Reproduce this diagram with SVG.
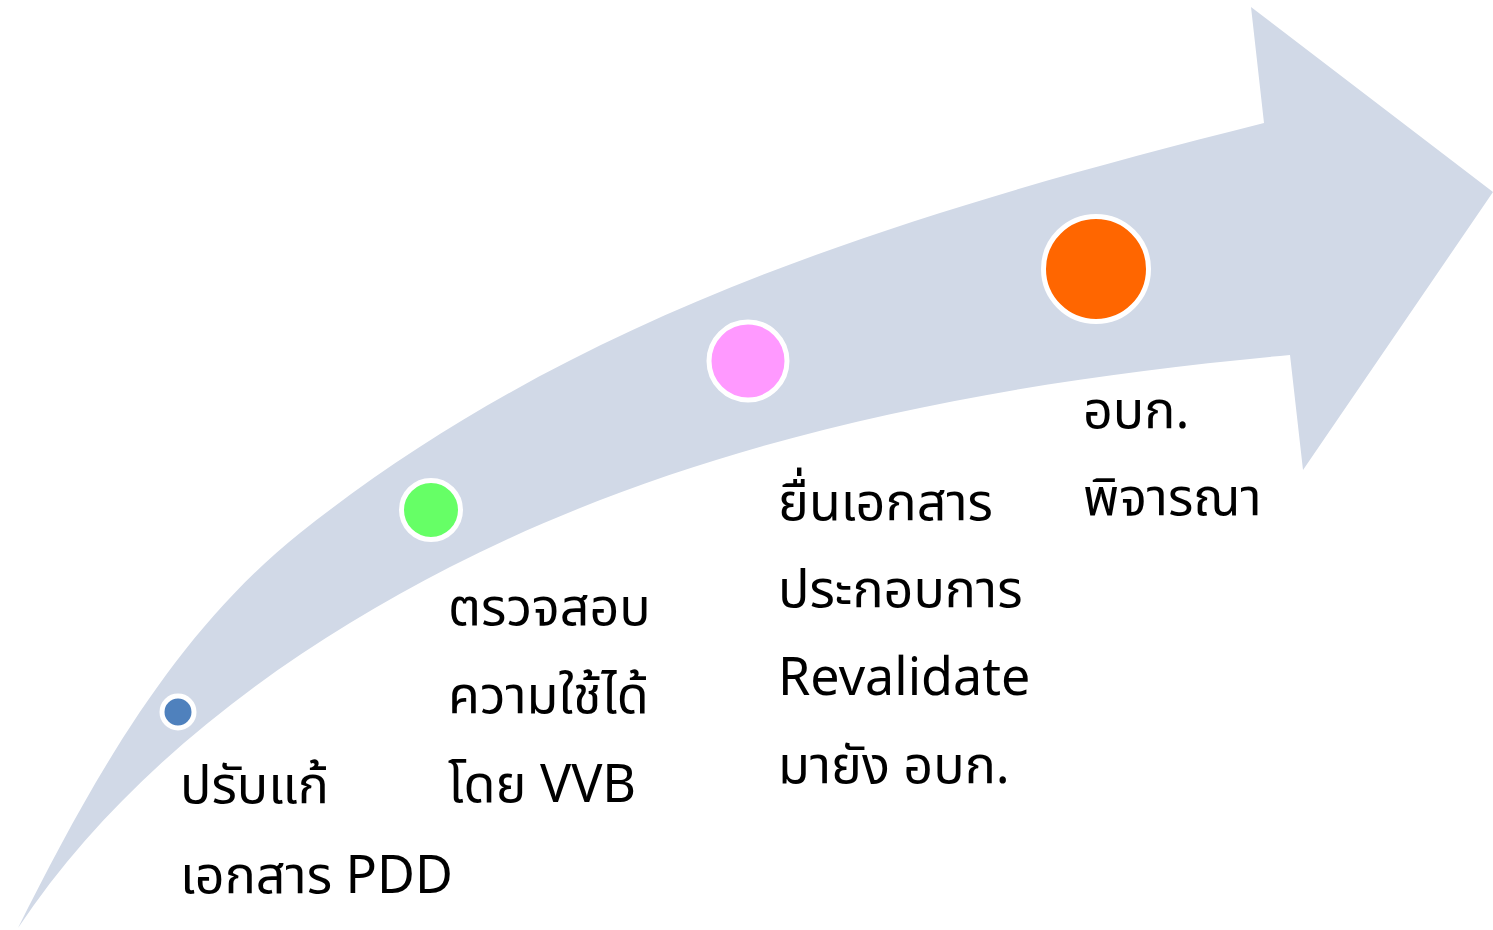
<svg xmlns="http://www.w3.org/2000/svg" width="1493" height="930" viewBox="0 0 1493 930">
<style>
.lbl{font-family:"Noto Sans Thai","Noto Sans","DejaVu Sans",sans-serif;font-size:52px;fill:#000}
.dot{stroke:#fff;stroke-width:5}
</style>
<rect width="1493" height="930" fill="#fff"/>
<g id="arrow">
<path fill="#D1D9E7" d="M18,928 C90.4,783.2 173.6,633.4 300,533 C565.2,322.2 876,220.2 1264,123 L1251,7 L1493,192 L1303,470 L1290,355 C1001.5,381.1 708.1,435.1 450,567 C282.7,652.5 122.3,771.6 18,928 Z"/>
</g>
<g id="step1">
<circle class="dot" cx="178" cy="712" r="16" fill="#4F81BD"/>
<text class="lbl" x="180" y="803">ปรับแก้</text>
<text class="lbl" x="180" y="893">เอกสาร PDD</text>
</g>
<g id="step2">
<circle class="dot" cx="431" cy="510" r="29.5" fill="#66FF66"/>
<text class="lbl" x="448" y="625">ตรวจสอบ</text>
<text class="lbl" x="448" y="713">ความใช้ได้</text>
<text class="lbl" x="448" y="802">โดย VVB</text>
</g>
<g id="step3">
<circle class="dot" cx="748" cy="361" r="39" fill="#FF99FF"/>
<text class="lbl" x="778" y="520">ยื่นเอกสาร</text>
<text class="lbl" x="778" y="607">ประกอบการ</text>
<text class="lbl" x="778" y="695">Revalidate</text>
<text class="lbl" x="778" y="783">มายัง อบก.</text>
</g>
<g id="step4">
<circle class="dot" cx="1096" cy="269" r="52.5" fill="#FF6600"/>
<text class="lbl" x="1083" y="428">อบก.</text>
<text class="lbl" x="1083" y="515">พิจารณา</text>
</g>
<g id="connectors"></g>
</svg>
